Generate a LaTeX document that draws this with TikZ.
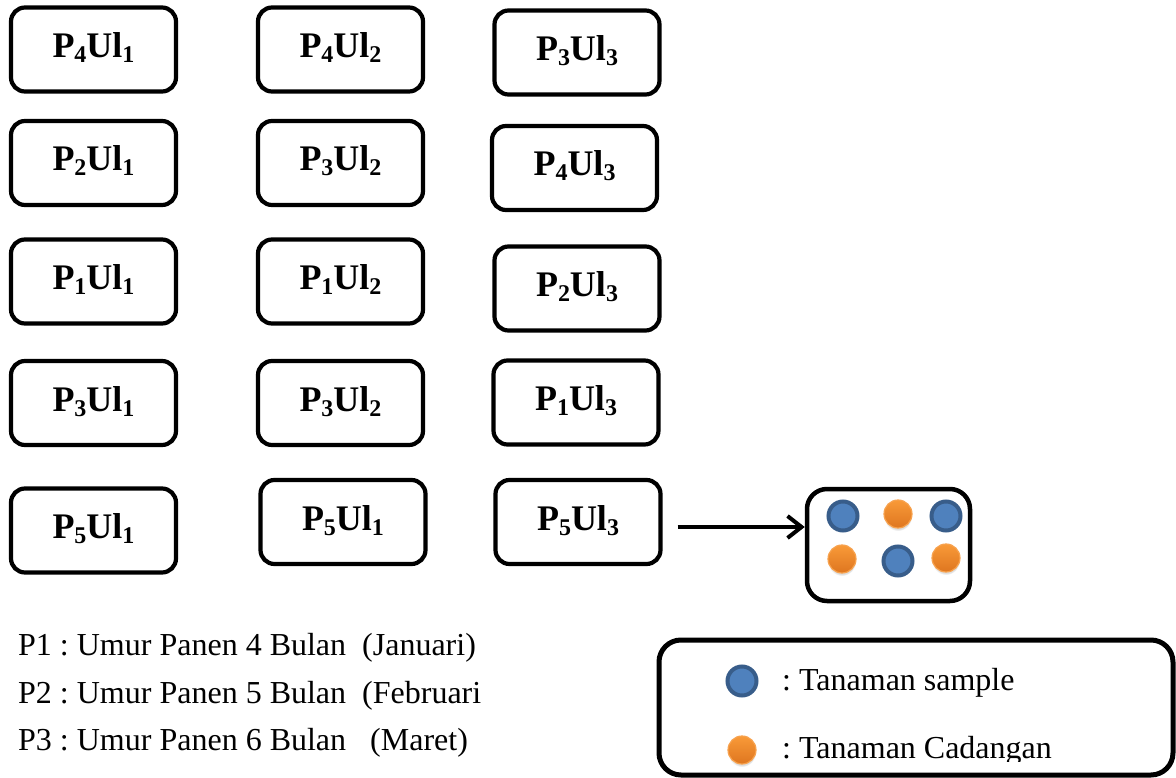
\documentclass[tikz,border=0pt]{standalone}
\usepackage{fontspec}
\setmainfont{Liberation Serif}
\usetikzlibrary{arrows.meta,shadows}
\frenchspacing

\definecolor{sblue}{HTML}{4F81BD}
\definecolor{sblueedge}{HTML}{385D8A}
\definecolor{sorangetop}{HTML}{F99A38}
\definecolor{sorangebot}{HTML}{DE7620}
\definecolor{sorangeedge}{HTML}{F7A24E}

% subscript digit of a plot label
\newcommand\sbsdigit[1]{\raisebox{-5pt}{\fontsize{24}{24}\selectfont #1}}
% plot label P_i Ul_j
\newcommand\plotlbl[2]{P\sbsdigit{#1}Ul\sbsdigit{#2}}

\tikzset{
  plotbox/.style={draw, line width=4.2pt, rounded corners=14pt,
    minimum width=165pt, minimum height=84pt, inner sep=0pt,
    text height=24pt, text depth=8pt,
    font=\fontsize{36}{40}\selectfont\bfseries},
  framebox/.style={draw, line width=4.5pt, rounded corners=20pt, inner sep=0pt},
  sampledot/.style={circle, draw=sblueedge, fill=sblue, line width=4pt,
    minimum size=29pt, inner sep=0pt},
  reservedot/.style={circle, draw=sorangeedge, line width=1.2pt,
    top color=sorangetop, bottom color=sorangebot,
    minimum size=28pt, inner sep=0pt,
    circular drop shadow={shadow xshift=0pt, shadow yshift=-3pt,
      shadow scale=1.0, opacity=0.22, fill=black!60}},
  note/.style={anchor=base west, inner sep=0pt,
    font=\fontsize{32}{36}\selectfont},
  arrowline/.style={line width=4pt,
    -{Straight Barb[length=14pt,width=22pt,line width=4pt]}}
}

\begin{document}
\begin{tikzpicture}[x=1pt,y=-1pt]
\useasboundingbox (0,0) rectangle (1176,778);

% column 1
\node[plotbox] (a1) at (93.5,49.5)  {\plotlbl{4}{1}};
\node[plotbox] (a2) at (93.5,163)   {\plotlbl{2}{1}};
\node[plotbox] (a3) at (93.5,281.5) {\plotlbl{1}{1}};
\node[plotbox] (a4) at (93.5,403)   {\plotlbl{3}{1}};
\node[plotbox] (a5) at (93.5,530.5) {\plotlbl{5}{1}};
% column 2
\node[plotbox] (b1) at (340.5,49.5)  {\plotlbl{4}{2}};
\node[plotbox] (b2) at (340.5,163)   {\plotlbl{3}{2}};
\node[plotbox] (b3) at (340.5,281.5) {\plotlbl{1}{2}};
\node[plotbox] (b4) at (340.5,403)   {\plotlbl{3}{2}};
\node[plotbox] (b5) at (343,522)     {\plotlbl{5}{1}};
% column 3
\node[plotbox] (c1) at (577,52.5)   {\plotlbl{3}{3}};
\node[plotbox] (c2) at (574.5,168)  {\plotlbl{4}{3}};
\node[plotbox] (c3) at (577,288.5)  {\plotlbl{2}{3}};
\node[plotbox] (c4) at (576,402.5)  {\plotlbl{1}{3}};
\node[plotbox] (c5) at (578,522)    {\plotlbl{5}{3}};

% detail of one plot
\node[framebox, minimum width=163pt, minimum height=112pt] (plot) at (888.5,545) {};
\node[sampledot]  (d1) at (843,516) {};
\node[reservedot] (d2) at (898,514) {};
\node[sampledot]  (d3) at (946,516) {};
\node[reservedot] (d4) at (842,559) {};
\node[sampledot]  (d5) at (898,561) {};
\node[reservedot] (d6) at (946,558) {};

\coordinate (astart) at ([xshift=15pt,yshift=-5pt]c5.east);
\draw[arrowline] (astart) -- (astart -| plot.west);

% treatment notes
\node[note] (n1) at (18,655) {P1 : Umur Panen 4 Bulan\hspace{0.5em}(Januari)};
\node[note] (n2) at (18,703) {P2 : Umur Panen 5 Bulan\hspace{0.5em}(Februari};
\node[note] (n3) at (18,750) {P3 : Umur Panen 6 Bulan\hspace{0.75em}(Maret)};

% legend
\node[framebox, line width=5pt, rounded corners=22pt,
  minimum width=514pt, minimum height=135pt] (legend) at (916,707.5) {};
\node[sampledot]  (ls) at (742,681) {};
\node[reservedot] (lr) at (742,750) {};
\node[note] (lt1) at (782,690) {: Tanaman sample};
\begin{scope}
  \clip (700,720) rectangle (1160,761);
  \node[note] (lt2) at (782,758) {: Tanaman Cadangan};
\end{scope}
\end{tikzpicture}
\end{document}
